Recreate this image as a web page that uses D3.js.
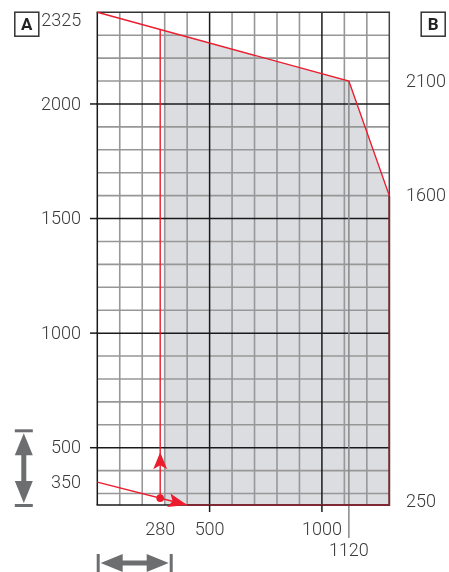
<!DOCTYPE html>
<html>
<head>
<meta charset="utf-8">
<script src="https://cdn.jsdelivr.net/npm/d3@7"></script>
<style>
  html, body { margin: 0; padding: 0; background: #fff; }
  svg { display: block; will-change: transform; }
  text { font-family: Roboto, "Liberation Sans", Arial, sans-serif; font-weight: 300; fill: #3a3a3a; -webkit-font-smoothing: antialiased; }
</style>
</head>
<body>
<svg id="chart" width="449" height="572"></svg>
<script>
// Working range: outreach (horizontal) versus height (vertical)
const xDomain = [0, 1300];
const yDomain = [250, 2400];
const gridStep = 100;
const xMajor = [0, 500, 1000, 1300];
const yMajor = [500, 1000, 1500, 2000, 2400];

// Upper boundary of the envelope
const upperX = [0, 1120, 1300];
const upperY = [2400, 2100, 1600];
// Lower boundary and minimum outreach
const baseY = 250;
const minReach = 280;
const minReachTop = 2325;
const fillStartX = 300;
// Lower approach line ending in an arrow
const lowerX = [0, 400];
const lowerY = [350, 250];
const pivot = [280, 280];
const upArrowTip = 480;

// Tick labels
const leftTicks = [350, 500, 1000, 1500, 2000];
const rightTicks = [2100, 1600, 250];
const bottomTicks = [280, 500, 1000];
const markerTick = 1120;
const topLeftLabel = "2325";

const red = "#ec1c2e";
const maroon = "#7e2833";
const grey = "#6d6e70";
const ink = "#3a3a3a";

const svg = d3.select("#chart");
const x = d3.scaleLinear().domain(xDomain).range([97.3, 389.3]);
const y = d3.scaleLinear().domain(yDomain).range([505, 12.3]);

// Shaded envelope
const upperAt = v => {
  const i = v <= upperX[1] ? 0 : 1;
  const t = (v - upperX[i]) / (upperX[i + 1] - upperX[i]);
  return upperY[i] + t * (upperY[i + 1] - upperY[i]);
};
const envelope = [
  [fillStartX, upperAt(fillStartX)],
  [upperX[1], upperY[1]],
  [upperX[2], upperY[2]],
  [xDomain[1], baseY],
  [fillStartX, baseY]
];
svg.append("path")
  .attr("d", d3.line().x(d => x(d[0])).y(d => y(d[1]))(envelope) + "Z")
  .attr("fill", "#dcdde0");

// Grid
const minorX = d3.range(xDomain[0] + gridStep, xDomain[1], gridStep).filter(v => !xMajor.includes(v));
const minorY = d3.range(300, yDomain[1], gridStep).filter(v => !yMajor.includes(v));
const grid = svg.append("g");
grid.selectAll(".mx").data(minorX).join("line")
  .attr("x1", d => x(d)).attr("x2", d => x(d))
  .attr("y1", y(yDomain[0])).attr("y2", y(yDomain[1]))
  .attr("stroke", "#979797").attr("stroke-width", 1.6);
grid.selectAll(".my").data(minorY).join("line")
  .attr("y1", d => y(d)).attr("y2", d => y(d))
  .attr("x1", x(xDomain[0])).attr("x2", x(xDomain[1]))
  .attr("stroke", "#979797").attr("stroke-width", 1.6);
grid.selectAll(".Mx").data(xMajor).join("line")
  .attr("x1", d => x(d)).attr("x2", d => x(d))
  .attr("y1", y(yDomain[0])).attr("y2", y(yDomain[1]))
  .attr("stroke", d => d === 1300 ? "#444" : "#1a1a1a").attr("stroke-width", 1.5);
grid.selectAll(".My").data(yMajor.concat([yDomain[0]])).join("line")
  .attr("y1", d => y(d)).attr("y2", d => y(d))
  .attr("x1", x(xDomain[0]) - 0.7).attr("x2", x(xDomain[1]) + 0.7)
  .attr("stroke", d => d === 2400 ? "#333" : "#1a1a1a").attr("stroke-width", 1.5);

// Marker line from the upper corner down past the axis
svg.append("line")
  .attr("x1", x(markerTick)).attr("x2", x(markerTick))
  .attr("y1", y(upperY[1])).attr("y2", y(baseY) + 33)
  .attr("stroke", "#888").attr("stroke-width", 1.5);

// Envelope outline on the frame edges
svg.append("path")
  .attr("d", d3.line().x(d => x(d[0])).y(d => y(d[1]))([[upperX[2], upperY[2]], [xDomain[1], baseY], [lowerX[1], baseY]]))
  .attr("fill", "none").attr("stroke", maroon).attr("stroke-width", 1.8);

// Upper boundary
svg.append("path")
  .attr("d", d3.line().x((d, i) => x(upperX[i])).y(d => y(d))(upperY))
  .attr("fill", "none").attr("stroke", red).attr("stroke-width", 1.4);

// Minimum outreach line
svg.append("line")
  .attr("x1", x(minReach)).attr("x2", x(minReach))
  .attr("y1", y(pivot[1])).attr("y2", y(minReachTop))
  .attr("stroke", red).attr("stroke-width", 1.4);

// Lower approach line
svg.append("line")
  .attr("x1", x(lowerX[0])).attr("y1", y(lowerY[0]))
  .attr("x2", x(lowerX[1])).attr("y2", y(lowerY[1]))
  .attr("stroke", red).attr("stroke-width", 1.4);

// Arrowhead drawn at (tx, ty) pointing along angle a
function arrowHead(tx, ty, a, len, half, notch, color) {
  const c = Math.cos(a), s = Math.sin(a);
  const pt = (u, v) => [tx - u * c - v * s, ty - u * s + v * c];
  const pts = [pt(0, 0), pt(len, half), pt(len - notch, 0), pt(len, -half)];
  svg.append("path").attr("d", "M" + pts.join("L") + "Z").attr("fill", color);
}
arrowHead(x(minReach), y(upArrowTip), -Math.PI / 2, 17, 7, 4, red);
const ang = Math.atan2(y(lowerY[1]) - y(lowerY[0]), x(lowerX[1]) - x(lowerX[0]));
arrowHead(x(lowerX[1]), y(lowerY[1]), ang, 19, 7, 4, red);
svg.append("circle").attr("cx", x(pivot[0])).attr("cy", y(pivot[1])).attr("r", 3.8).attr("fill", red);

// Axes
const fs = "18px";
const left = svg.append("g").attr("transform", `translate(${Math.round(x(0))},0)`)
  .call(d3.axisLeft(y).tickValues(leftTicks).tickSize(7).tickPadding(9).tickFormat(d3.format("d")).offset(0));
const right = svg.append("g").attr("transform", `translate(${Math.round(x(1300))},0)`)
  .call(d3.axisRight(y).tickValues(rightTicks).tickSize(0).tickPadding(17).tickFormat(d3.format("d")).offset(0));
const bottom = svg.append("g").attr("transform", `translate(0,${Math.round(y(baseY))})`)
  .call(d3.axisBottom(x).tickValues(bottomTicks).tickSize(7).tickPadding(10).tickFormat(d3.format("d")).offset(0));
const marker = svg.append("g").attr("transform", `translate(0,${Math.round(y(baseY))})`)
  .call(d3.axisBottom(x).tickValues([markerTick]).tickSize(33).tickPadding(5).tickFormat(d3.format("d")).offset(0));
[left, right, bottom, marker].forEach(g => {
  g.attr("color", ink).attr("font-family", null).attr("font-size", null);
  g.select(".domain").remove();
  g.selectAll("text").style("font-size", fs).style("fill", ink);
  g.selectAll(".tick line").attr("stroke", "#1a1a1a").attr("stroke-width", 1.5);
});
marker.selectAll(".tick line").remove();
left.selectAll(".tick").filter(d => d === 350).select("line").remove();
bottom.selectAll(".tick").filter(d => d === 280).select("line").remove();
right.selectAll(".tick").filter(d => d === 250).select("text").attr("dy", "0.1em");

// Label for the top of the minimum outreach
svg.append("text").attr("x", 81.3).attr("y", 20).attr("dy", "0.35em")
  .attr("text-anchor", "end").style("font-size", fs).style("fill", ink).text(topLeftLabel);

// Boxed panel letters
function boxLabel(bx, by, label) {
  svg.append("rect").attr("x", bx).attr("y", by).attr("width", 24).attr("height", 24)
    .attr("fill", "#fff").attr("stroke", "#333").attr("stroke-width", 1.5);
  svg.append("text").attr("x", bx + 12).attr("y", by + 12).attr("dy", "0.36em")
    .attr("text-anchor", "middle").style("font-size", "17px").style("font-weight", 700)
    .style("fill", "#222").text(label);
}
boxLabel(14.8, 12.2, "A");
boxLabel(421.2, 12.2, "B");

// Grey dimension arrows
function dimArrow(x1, y1, x2, y2) {
  const a = Math.atan2(y2 - y1, x2 - x1);
  const nx = -Math.sin(a), ny = Math.cos(a);
  const g = svg.append("g").attr("fill", grey).attr("stroke", grey);
  [[x1, y1], [x2, y2]].forEach(p => {
    g.append("line").attr("x1", p[0] - nx * 9).attr("y1", p[1] - ny * 9)
      .attr("x2", p[0] + nx * 9).attr("y2", p[1] + ny * 9).attr("stroke-width", 3);
  });
  const off = 2.5, len = 22;
  const c = Math.cos(a), s = Math.sin(a);
  g.append("line")
    .attr("x1", x1 + c * (off + 10)).attr("y1", y1 + s * (off + 10))
    .attr("x2", x2 - c * (off + 10)).attr("y2", y2 - s * (off + 10))
    .attr("stroke-width", 5);
  const head = (tx, ty, dir) => {
    const dc = c * dir, ds = s * dir;
    const pts = [[tx, ty], [tx - dc * len + nx * 9, ty - ds * len + ny * 9], [tx - dc * len - nx * 9, ty - ds * len - ny * 9]];
    g.append("path").attr("d", "M" + pts.join("L") + "Z").attr("stroke", "none");
  };
  head(x1 + c * off, y1 + s * off, -1);
  head(x2 - c * off, y2 - s * off, 1);
}
dimArrow(23.8, 430.8, 23.8, 505.5);
dimArrow(98.2, 563, 171.2, 563);
</script>
</body>
</html>
